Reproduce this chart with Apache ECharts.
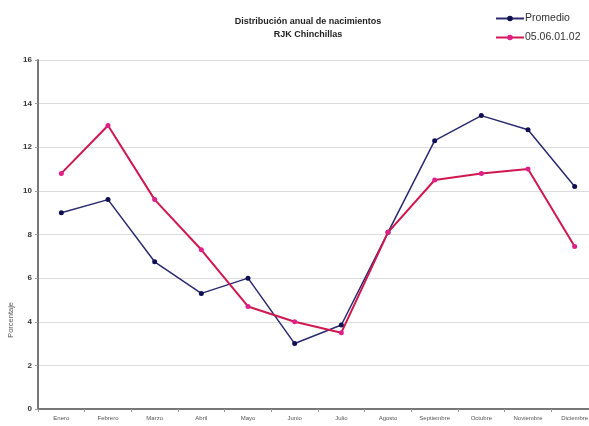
<!DOCTYPE html>
<html><head><meta charset="utf-8">
<script src="https://cdn.jsdelivr.net/npm/echarts@6/dist/echarts.min.js"></script>
<style>html,body{margin:0;padding:0;background:#fff}#c{width:589px;height:426px}</style>
</head><body><div id="c"></div>
<script>
const months = ["Enero","Febrero","Marzo","Abril","Mayo","Junio","Julio","Agosto","Septiembre","Octubre","Noviembre","Diciembre"];
const promedio = [9.0,9.6,6.75,5.3,6.0,3.0,3.85,8.1,12.3,13.45,12.8,10.2];
const serie2 = [10.8,13.0,9.6,7.3,4.7,4.0,3.5,8.1,10.5,10.8,11.0,7.45];
const seriesNames = ["Promedio","05.06.01.02"];
const titleLines = ["Distribución anual de nacimientos","RJK Chinchillas"];
const yName = "Porcentaje";

const chart = echarts.init(document.getElementById('c'));
chart.setOption({
  animation:false,
  backgroundColor:'#fff',
  title:{text:titleLines.join('\n'), left:303, top:10, textAlign:'center',
    textStyle:{fontSize:9, fontWeight:'bold', color:'#222', lineHeight:13, fontFamily:'Liberation Sans'}},
  legend:{left:490, top:8, orient:'vertical', itemWidth:28, itemHeight:7, itemGap:8,
    textStyle:{fontSize:10.5, color:'#333', fontFamily:'Liberation Sans', padding:[0,0,0,-4]},
    data:seriesNames},
  grid:{left:38, top:60, width:560, height:349, outerBoundsMode:'none', containLabel:false},
  xAxis:{type:'category', data:months, boundaryGap:true,
    axisLine:{lineStyle:{color:'#777', width:2}},
    axisTick:{show:true, alignWithLabel:false, lineStyle:{color:'#999'}, length:3},
    axisLabel:{fontSize:6, color:'#555', margin:6, interval:0, fontFamily:'Liberation Sans'}},
  yAxis:{type:'value', min:0, max:16, interval:2,
    axisLine:{show:true, lineStyle:{color:'#777', width:2}},
    axisTick:{show:true, length:3, lineStyle:{color:'#999'}},
    splitLine:{lineStyle:{color:'#dcdcdc'}},
    axisLabel:{fontSize:8, color:'#333', fontWeight:'bold', margin:6, fontFamily:'Liberation Sans'}},
  graphic:[{type:'text', left:7, top:302, rotation:Math.PI/2,
    style:{text:yName, fontSize:7.5, fill:'#555', fontFamily:'Liberation Sans'}}],
  series:[
    {name:seriesNames[0], type:'line', data:promedio, symbol:'circle', symbolSize:5,
      lineStyle:{color:'#2a2a70', width:1.5}, itemStyle:{color:'#101050'}},
    {name:seriesNames[1], type:'line', data:serie2, symbol:'circle', symbolSize:5,
      lineStyle:{color:'#d01850', width:2}, itemStyle:{color:'#e0208a'}}
  ]
});
</script></body></html>
